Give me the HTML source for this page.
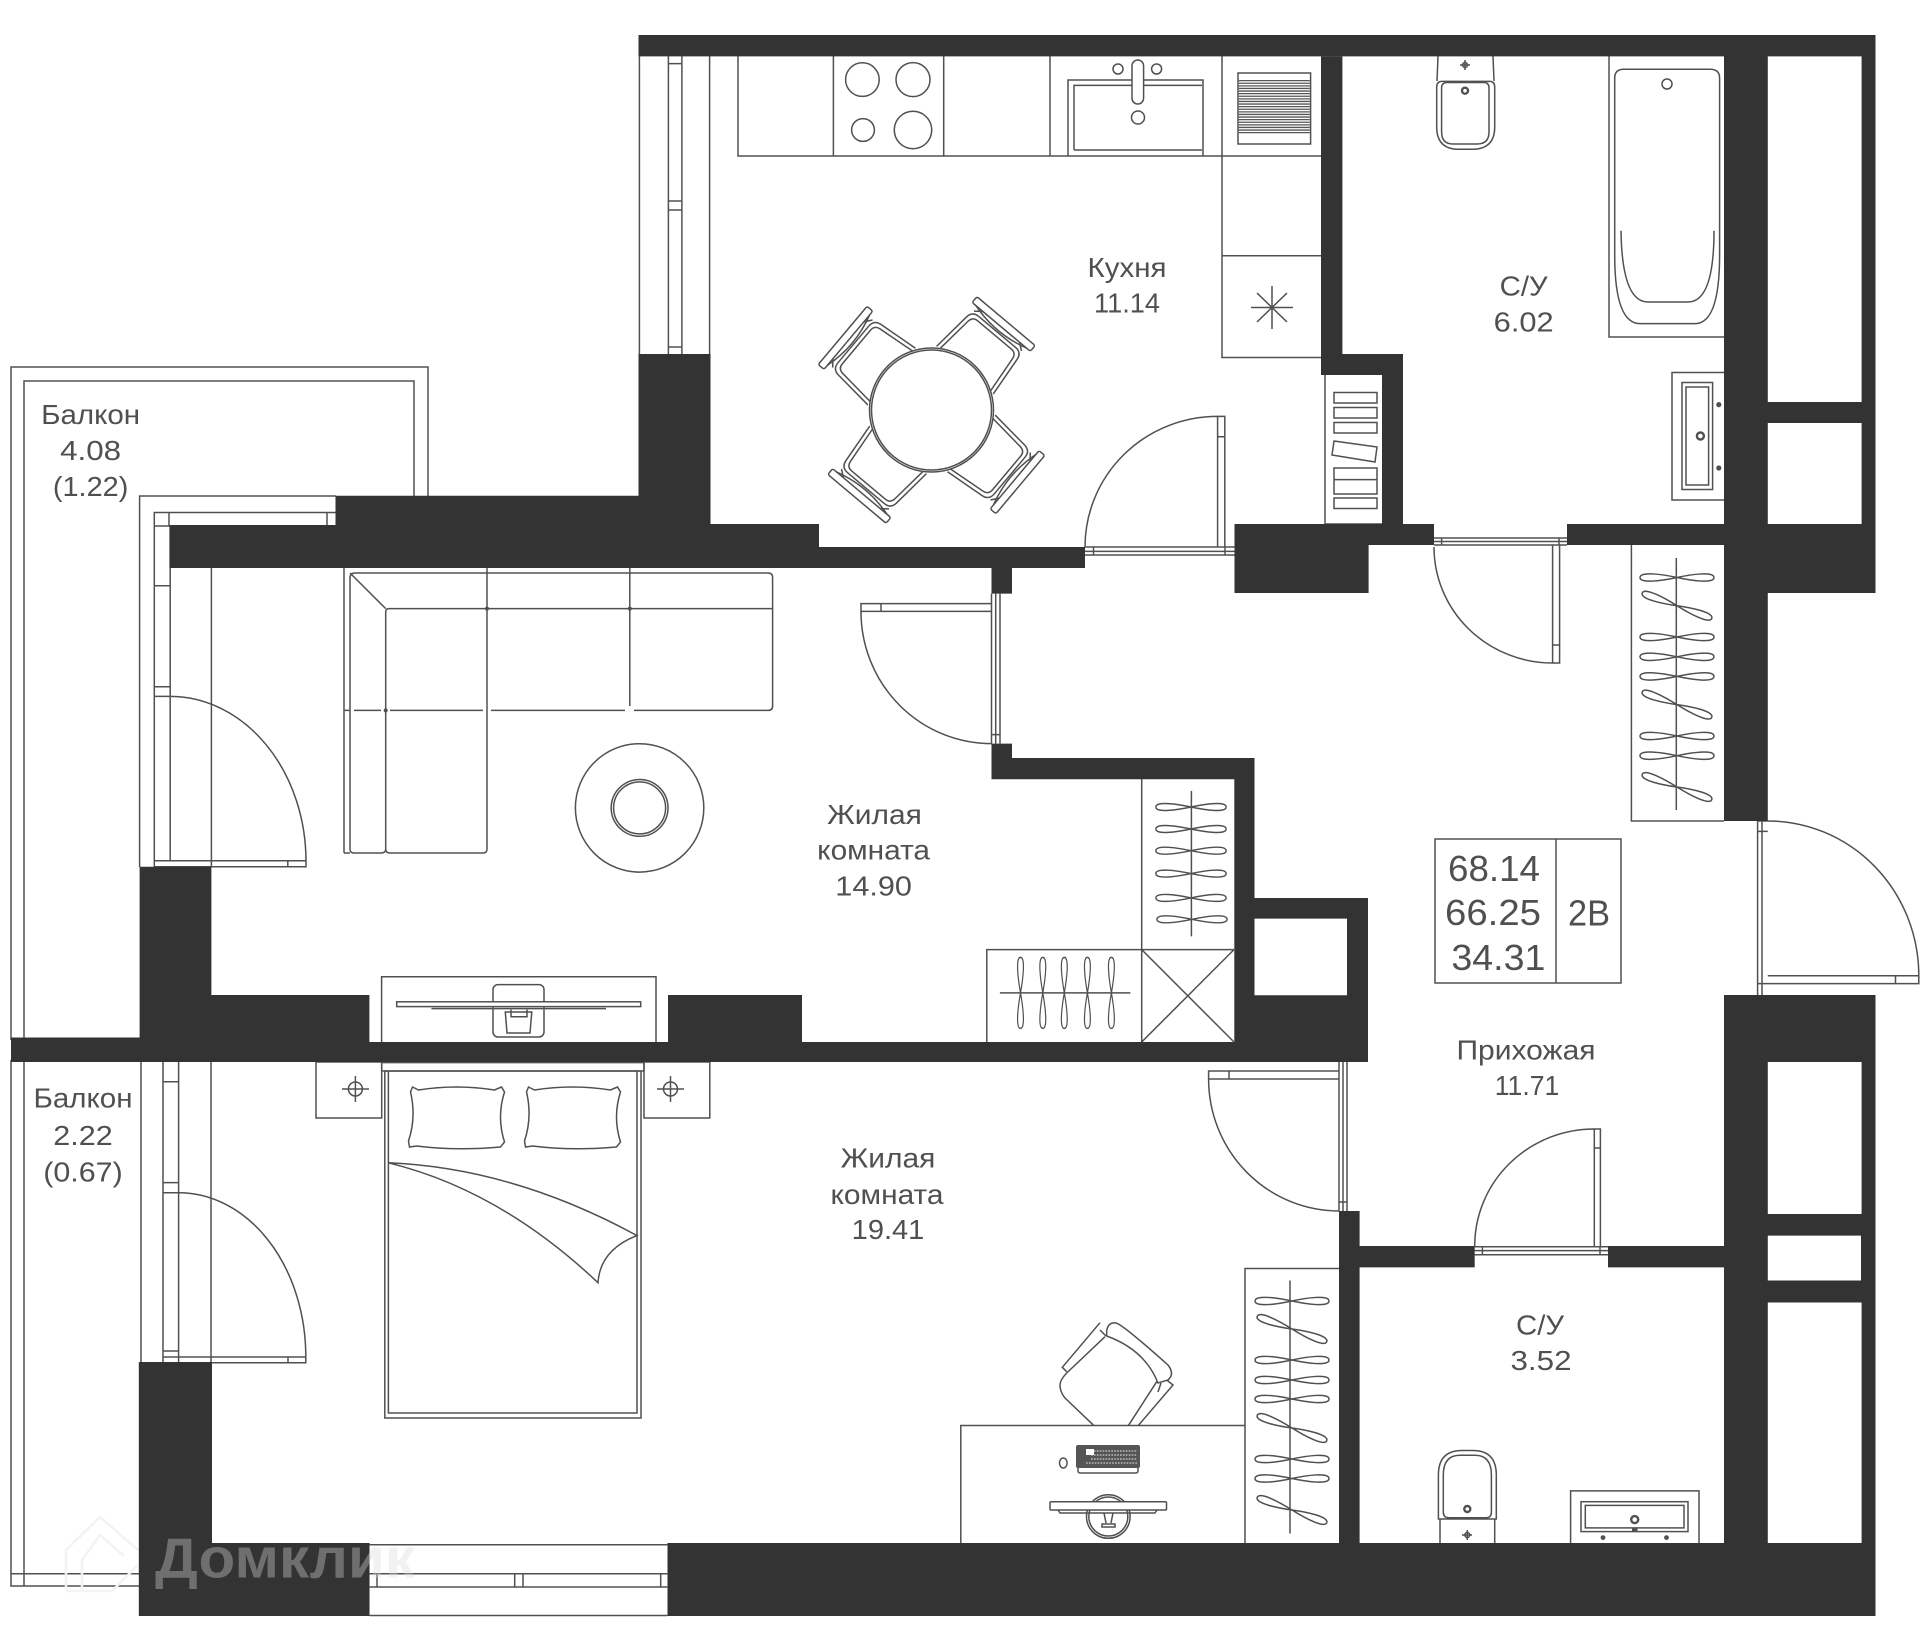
<!DOCTYPE html>
<html><head><meta charset="utf-8"><style>
html,body{margin:0;padding:0;background:#fff}
svg{display:block}
.l{fill:none;stroke:#505050;stroke-width:1.5}
.w{fill:#333}
text{font-family:"Liberation Sans",sans-serif;font-size:28px;fill:#505050;text-anchor:middle}
</style></head><body>
<svg xmlns="http://www.w3.org/2000/svg" width="1920" height="1646" viewBox="0 0 1920 1646">
<defs>
<g id="h" class="l"><path d="M0,0C-14,-3 -37,-6.5 -37,0C-37,6.5 -14,3 0,0C14,-3 37,-6.5 37,0C37,6.5 14,3 0,0Z"/></g>
<g id="c" class="l">
<path d="M-37,-52L-33,-94Q-32,-102 -24,-102H24Q32,-102 33,-94L37,-52"/>
<path d="M-33,-52L-29,-92Q-28,-98 -22,-98H22Q28,-98 29,-92L33,-52"/>
<rect x="-38" y="-116" width="76" height="7.5" rx="2"/>
<path d="M-33,-108.5Q0,-99 33,-108.5M-31,-103L-24,-108.5M31,-103L24,-108.5"/>
</g>
<g id="p" class="l"><path d="M4,0L10,3Q48,-3 86,3L93,0L96,5Q88,30 96,55L92,60Q48,64 8,59L1,60L0,54Q8,30 2,5Z"/></g>
</defs>
<rect width="1920" height="1646" fill="#fff"/>

<!-- balconies -->
<path class="l" d="M11,1040V367H428V496M24,1040V381H414V496"/>
<path class="l" d="M11,1060V1586H139M24,1060V1586M11,1573.8H139"/>

<!-- upper balcony door frame -->
<path class="l" d="M139.6,867V496H336M154.3,867V512.5H336M169,512.5V526M327,512.5V525M154,526H170M154,585.7H170M154,686.8H170M154,696.4H170M170.2,568V861M211.4,568V867M154,860.7H306M154,866.8H306V861M287.8,861V867"/>
<path class="l" d="M170.2,696.4A136,165 0 0 1 306,861.4"/>

<!-- lower balcony door frame -->
<path class="l" d="M141,1062V1362M163,1062V1362M178.6,1062V1362M211,1062V1362M163,1081.7H178.6M163,1182.6H178.6M163,1192.7H178.6M163,1351H178.6M163,1357H305.8M163,1362.7H305.8V1357M288,1357V1362.7"/>
<path class="l" d="M178.6,1192.7A127,164 0 0 1 305.8,1357"/>

<!-- kitchen window -->
<path class="l" d="M639.4,56V354M668.4,56V354M681.9,56V354M709.6,56V354M668.4,63.6H681.9M668.4,201H681.9M668.4,210H681.9M668.4,347H681.9"/>

<!-- kitchen counters -->
<path class="l" d="M1321,156H738V56M833.4,56V156M943.7,56V156M1050,56V156M1222,56V357.5H1321M1222,255.7H1321"/>
<circle class="l" cx="862.4" cy="79.6" r="16.8"/><circle class="l" cx="913" cy="79.6" r="17"/>
<circle class="l" cx="863" cy="130" r="11.4"/><circle class="l" cx="913" cy="130" r="18.7"/>
<path class="l" d="M1068,156V80H1203V156M1074,150V85.4H1202M1074,150H1202"/>
<rect x="1132" y="60" width="11.6" height="44" rx="5.8" fill="#fff" stroke="#505050" stroke-width="1.5"/>
<circle class="l" cx="1118" cy="69" r="5"/><circle class="l" cx="1156.6" cy="69" r="5"/><circle class="l" cx="1138" cy="117.5" r="6.5"/>
<rect class="l" x="1238" y="73" width="72.6" height="71"/>
<path d="M1274.3,80V134" fill="none" stroke="#555" stroke-width="71" stroke-dasharray="1.3 1.3"/>
<path class="l" d="M1272,286V329M1251,307.5H1293M1257,293L1287,322M1257,322L1287,293"/>

<!-- table and chairs -->
<use href="#c" transform="translate(931.5,410) rotate(40)"/>
<use href="#c" transform="translate(931.5,410) rotate(130)"/>
<use href="#c" transform="translate(931.5,410) rotate(220)"/>
<use href="#c" transform="translate(931.5,410) rotate(310)"/>
<circle cx="931.5" cy="410" r="62" fill="#fff" stroke="#505050" stroke-width="1.5"/>
<circle class="l" cx="931.5" cy="410" r="60"/>

<!-- kitchen door -->
<path class="l" d="M1085,547A132.6,130.6 0 0 1 1217.6,416.4H1224.8V547M1217.6,416.4V547M1217.6,436.8H1224.8"/>
<path class="l" d="M1085,547H1234.5M1085,551.4H1234.5M1085,555H1234.5M1093.5,547V555M1225,547V555"/>

<!-- toilet, bath, sink upper -->
<path class="l" d="M1438,56L1437,81M1493,56L1494,81"/>
<path class="l" d="M1436.7,87Q1436.7,81.4 1442,81.4H1489.5Q1494.7,81.4 1494.7,87V127Q1494.7,149.3 1472,149.3H1459Q1436.7,149.3 1436.7,127Z"/>
<path class="l" d="M1441.6,88Q1441.6,82.5 1447,82.5H1484Q1489,82.5 1489,88V132Q1489,144 1477,144H1453Q1441.6,144 1441.6,132Z"/>
<circle cx="1465" cy="90.7" r="3" fill="none" stroke="#505050" stroke-width="2.4"/>
<path class="l" d="M1460,65H1470M1465,60V70"/><circle class="l" cx="1465" cy="65" r="2.5"/>
<path class="l" d="M1724,337H1609V56"/>
<path class="l" d="M1614.7,78Q1614.7,69.3 1624,69.3H1710Q1719.6,69.3 1719.6,78V255Q1719.6,323.6 1695,323.6H1640Q1614.7,323.6 1614.7,255Z"/>
<path class="l" d="M1621,230.7Q1622,302 1648,302H1688Q1714,302 1714,230.7"/>
<circle class="l" cx="1667" cy="84" r="5"/>
<path class="l" d="M1724,372.5H1672V500H1724"/>
<rect class="l" x="1682" y="382.5" width="30.6" height="107"/>
<rect class="l" x="1686" y="387" width="22.6" height="98"/>
<circle cx="1700.4" cy="436" r="3.5" fill="none" stroke="#505050" stroke-width="2.4"/>
<circle cx="1718.8" cy="404.6" r="2.6" fill="#505050"/><circle cx="1718.8" cy="468" r="2.6" fill="#505050"/>

<!-- shaft racks -->
<path class="l" d="M1325,375V524M1334,392.5H1377V403H1334ZM1334,407.5H1377V418H1334ZM1334,422.5H1377V433H1334ZM1334,441L1377,447L1375,462L1332,455ZM1334,468H1377V494H1334ZM1334,479.6H1377M1334,498H1377V508.5H1334Z"/>
<path class="l" d="M1325,524H1382"/>

<!-- bath door -->
<path class="l" d="M1434,538H1567M1434,541.5H1567M1434,545H1567M1441.6,538V545M1559,538V545"/>
<path class="l" d="M1434,547A118.6,116 0 0 0 1552.6,663H1559.6V545M1552.6,545V663M1552.6,645H1559.6"/>

<!-- hall wardrobe -->
<path class="l" d="M1631.4,545V821H1724M1676.3,558V810"/>
<use href="#h" transform="translate(1677,577.5)"/><use href="#h" transform="translate(1677,605.7) rotate(20)"/>
<use href="#h" transform="translate(1677,637)"/><use href="#h" transform="translate(1677,656.8)"/>
<use href="#h" transform="translate(1677,676.4)"/><use href="#h" transform="translate(1677,704.6) rotate(20)"/>
<use href="#h" transform="translate(1677,736)"/><use href="#h" transform="translate(1677,755.7)"/>
<use href="#h" transform="translate(1677,787) rotate(20)"/>

<!-- entrance door -->
<path class="l" d="M1757.6,821V995M1762,821V995M1757.6,831.4H1767.8M1757.6,821H1767.8"/>
<path class="l" d="M1767.8,821A151,154.7 0 0 1 1918.8,975.7V983.6H1757.6M1767.8,975.7H1918.8M1895.5,975.7V983.6"/>

<!-- summary box -->
<rect class="l" x="1435" y="839" width="186" height="144"/><path class="l" d="M1556,839V983"/>

<!-- living furniture -->
<path class="l" d="M344,853V568M344,710.4H350M354,710.4H381M390,710.4H483M491,710.4H625M634,710.4H768Q772.6,710.4 772.6,706V577Q772.6,573 768,573H355Q350,573 350,578V849Q350,853 354,853H381Q385.7,853 385.7,849V612Q385.7,608.6 389,608.6H772.6M350,573L385.7,608.6M487,568V849Q487,853 483,853H390Q385.7,853 385.7,849M629.8,568V706M344,853H350"/>
<circle cx="385.7" cy="710.4" r="2" fill="#505050"/><circle cx="487" cy="608.6" r="2" fill="#505050"/><circle cx="629.8" cy="608.6" r="2" fill="#505050"/>
<circle class="l" cx="639.6" cy="807.9" r="64.2"/>
<circle class="l" cx="639.6" cy="807.9" r="28.4"/><circle class="l" cx="639.6" cy="807.9" r="26"/>
<path class="l" d="M381.6,1042V976.8H656V1042"/>
<rect class="l" x="493" y="984.6" width="51" height="52.4" rx="5"/>
<rect x="396.7" y="1001.8" width="244" height="4.8" fill="#fff" stroke="#505050" stroke-width="1.5"/>
<path class="l" d="M431.4,1008.6H606"/>
<path class="l" d="M505.3,1012H531.8L530,1033H507ZM511,1009.6V1016.8H527V1009.6"/>

<!-- door living -->
<path class="l" d="M991.5,593.6V743.6M995.7,593.6V743.6M1000,593.6V743.6M991.5,734.6H1000"/>
<path class="l" d="M991.5,603.6H861V611.4H991.5M881,603.6V611.4"/>
<path class="l" d="M861,611.4A130.5,132 0 0 0 991.5,743.6"/>

<!-- living wardrobes -->
<path class="l" d="M1141.7,779V1042M1141.7,949.6H1234M986.8,1042V949.6H1141.7M1141.7,949.6L1234,1042M1234,949.6L1141.7,1042M1191.4,791V936.4M999.9,992.9H1130.4"/>
<use href="#h" transform="translate(1191,807) scale(.95,.95)"/><use href="#h" transform="translate(1191,829) scale(.95,.95)"/>
<use href="#h" transform="translate(1191,850.7) scale(.95,.95)"/><use href="#h" transform="translate(1191,873.6) scale(.95,.95)"/>
<use href="#h" transform="translate(1191,897.9) scale(.95,.95)"/><use href="#h" transform="translate(1192,919.3) scale(.95,.95)"/>
<use href="#h" transform="translate(1020.5,992.9) rotate(90) scale(.96,.8)"/><use href="#h" transform="translate(1042.8,992.9) rotate(90) scale(.96,.8)"/>
<use href="#h" transform="translate(1064.3,992.9) rotate(90) scale(.96,.8)"/><use href="#h" transform="translate(1087.4,992.9) rotate(90) scale(.96,.8)"/>
<use href="#h" transform="translate(1111.4,992.9) rotate(90) scale(.96,.8)"/>

<!-- bedroom -->
<rect class="l" x="316" y="1062" width="65.7" height="56"/>
<rect class="l" x="644" y="1062" width="65.8" height="56"/>
<circle class="l" cx="355.4" cy="1089" r="7"/><path class="l" d="M355.4,1076V1102M342,1089H369"/>
<circle class="l" cx="670.5" cy="1089" r="7"/><path class="l" d="M670.5,1076V1102M657,1089H684"/>
<rect class="l" x="381.7" y="1062.6" width="262.3" height="8.4"/>
<rect class="l" x="384.8" y="1071" width="256.2" height="347"/>
<path class="l" d="M388.4,1071V1413H637V1071"/>
<use href="#p" transform="translate(408.5,1087)"/><use href="#p" transform="translate(524.5,1087)"/>
<path class="l" d="M388.4,1162.8Q513,1168 637,1235.6Q600,1250 598,1282.7Q500,1190 388.4,1162.8Z"/>

<!-- bedroom door -->
<path class="l" d="M1339,1062V1211M1343,1062V1211M1347,1062V1211M1339,1202H1347"/>
<path class="l" d="M1339,1071H1208.6V1079H1339M1229,1071V1079"/>
<path class="l" d="M1208.6,1079A130.4,132 0 0 0 1339,1211"/>

<!-- desk etc -->
<path class="l" d="M960.8,1543V1425.5H1245"/>
<path class="l" d="M1100,1322.7L1062.3,1367.3L1066.7,1371.7M1166.7,1380L1173,1385L1138.3,1425.5"/>
<path class="l" d="M1105,1336.7L1066.7,1373Q1060,1380 1060,1385Q1060,1392 1065,1398L1094,1425.7M1156.7,1381.7L1128.3,1425.7"/>
<path fill="#fff" stroke="#505050" stroke-width="1.5" d="M1106.7,1331Q1108,1322 1116,1323Q1122,1324 1168,1365Q1175,1374 1168,1380L1158,1383Q1145,1350 1106.7,1336Z"/>
<path class="l" d="M1100,1330L1106,1336M1161,1383L1158,1392"/>
<rect x="1076" y="1445" width="64" height="23" rx="2" fill="#555"/>
<path d="M1091,1451H1137M1091,1455H1137M1091,1459H1137M1086,1463H1137" stroke="#ccc" stroke-width="1.2" stroke-dasharray="1.7 1.2" fill="none"/>
<rect x="1086" y="1449" width="8" height="6" fill="#fff"/>
<path class="l" d="M1078,1468V1471Q1078,1473 1081,1473H1135Q1138,1473 1138,1471V1468"/>
<ellipse class="l" cx="1063.3" cy="1463" rx="3.8" ry="5"/>
<circle class="l" cx="1108.3" cy="1516.5" r="21.8"/><circle class="l" cx="1108.3" cy="1516.5" r="19.5"/>
<rect x="1050" y="1501.7" width="116.5" height="8.3" rx="1" fill="#fff" stroke="#505050" stroke-width="1.5"/>
<path class="l" d="M1058,1510L1060,1513H1155L1157,1510M1104,1513L1106,1523M1113,1513L1111,1523M1102,1524H1115V1527H1102Z"/>

<!-- bedroom wardrobe -->
<path class="l" d="M1245,1543V1268.5H1339M1290,1280.5V1533.5"/>
<use href="#h" transform="translate(1292,1301)"/><use href="#h" transform="translate(1292,1329) rotate(20)"/>
<use href="#h" transform="translate(1292,1360)"/><use href="#h" transform="translate(1292,1380)"/>
<use href="#h" transform="translate(1292,1399)"/><use href="#h" transform="translate(1292,1428) rotate(20)"/>
<use href="#h" transform="translate(1292,1459)"/><use href="#h" transform="translate(1292,1478.5)"/>
<use href="#h" transform="translate(1292,1510) rotate(20)"/>

<!-- lower bath door -->
<path class="l" d="M1474.7,1246.8H1608M1474.7,1250.6H1608M1474.7,1254.7H1608M1482.4,1246.8V1254.7M1600,1246.8V1254.7"/>
<path class="l" d="M1474.7,1246A119.6,117 0 0 1 1594.3,1129H1600.4V1246.8M1594.3,1129V1246.8M1594.3,1148H1600.4"/>

<!-- lower toilet, sink -->
<path class="l" d="M1438.4,1475Q1438.4,1450.5 1462,1450.5H1473Q1496.3,1450.5 1496.3,1475V1519H1438.4Z"/>
<path class="l" d="M1443.3,1475Q1443.3,1455.3 1460,1455.3H1475Q1491.4,1455.3 1491.4,1475V1512Q1491.4,1517.8 1486,1517.8H1449Q1443.3,1517.8 1443.3,1512Z"/>
<path class="l" d="M1440,1519V1543M1494.7,1519V1543"/>
<circle cx="1467.3" cy="1509" r="3" fill="none" stroke="#505050" stroke-width="2.4"/>
<circle class="l" cx="1467.3" cy="1535" r="2.5"/><path class="l" d="M1462,1535H1472M1467.3,1530V1540"/>
<path class="l" d="M1570.6,1543V1490.9H1699V1543"/>
<rect class="l" x="1581" y="1501.7" width="107" height="29.9"/><rect class="l" x="1585.3" y="1505.4" width="98.7" height="22.5"/>
<circle cx="1634.7" cy="1519.6" r="3.5" fill="none" stroke="#505050" stroke-width="2.4"/>
<circle cx="1603" cy="1537.6" r="2.4" fill="#505050"/><circle cx="1666.5" cy="1537.6" r="2.4" fill="#505050"/>
<rect x="1632" y="1528" width="5.5" height="3" fill="#505050"/>

<!-- walls -->
<g class="w">
<path d="M638.5,35H1875.5V56.4H638.5Z"/>
<path d="M638.5,354H710.5V524H819V547H1085V568H169.4V525H335.5V495.7H638.5Z"/>
<path d="M991.5,568H1012V593.6H991.5Z"/>
<path d="M991.5,743.6H1012V758H1254.5V898H1368V1062H11V1037.5H139.6V866.8H211.4V995H369.4V1042H668V995H802V1042H1234.3V779.3H991.5Z"/>
<path d="M1254.5,918.6H1347V995.3H1254.5Z" fill="#fff"/>
<path d="M1234.5,524H1434V545H1368.6V593H1234.5Z"/>
<path d="M1321,56.4H1342.4V354H1403V524H1382V375H1321Z"/>
<path d="M1567,524H1724V56H1767.8V402H1861.6V56H1875.5V593H1767.8V821H1724V545H1567Z"/>
<path d="M1767.8,423H1861.6V524H1767.8Z" fill="#fff"/>
<path d="M1724,995H1875.5V1616H138.8V1362H212V1543H369.6V1616H667.4V1543H1339V1211H1359.6V1246H1474.7V1267.4H1359.6V1543H1724Z"/>
<path d="M1767.8,1062H1861.6V1214H1767.8ZM1767.8,1235.6H1861V1280.5H1767.8ZM1767.8,1302.5H1861.6V1543H1767.8Z" fill="#fff"/>
<path d="M1608,1246H1724V1267.4H1608Z"/>
</g>
<path d="M369.6,1544.7H667.4V1616H369.6Z" fill="#fff"/>
<path class="l" d="M369.6,1544.7H667.4M369.6,1573.8H667.4M369.6,1587H667.4M369.6,1615.5H667.4M377,1573.8V1587M514.7,1573.8V1587M523,1573.8V1587M660.7,1573.8V1587"/>

<!-- labels -->
<text x="90.6" y="424" textLength="99" lengthAdjust="spacingAndGlyphs">Балкон</text>
<text x="90.6" y="460" textLength="61" lengthAdjust="spacingAndGlyphs">4.08</text>
<text x="90.6" y="496" textLength="75.5" lengthAdjust="spacingAndGlyphs">(1.22)</text>
<text x="83" y="1107.5" textLength="99" lengthAdjust="spacingAndGlyphs">Балкон</text>
<text x="83" y="1145" textLength="59.4" lengthAdjust="spacingAndGlyphs">2.22</text>
<text x="83" y="1181.5" textLength="79.5" lengthAdjust="spacingAndGlyphs">(0.67)</text>
<text x="1127" y="277" textLength="79" lengthAdjust="spacingAndGlyphs">Кухня</text>
<text x="1127" y="312.6" textLength="66" lengthAdjust="spacingAndGlyphs">11.14</text>
<text x="1523.7" y="295.7" textLength="48" lengthAdjust="spacingAndGlyphs">С/У</text>
<text x="1523.7" y="331.5" textLength="60" lengthAdjust="spacingAndGlyphs">6.02</text>
<text x="874.5" y="824" textLength="94.7" lengthAdjust="spacingAndGlyphs">Жилая</text>
<text x="873.6" y="859.5" textLength="112.8" lengthAdjust="spacingAndGlyphs">комната</text>
<text x="873.6" y="895.5" textLength="76.6" lengthAdjust="spacingAndGlyphs">14.90</text>
<text x="888" y="1167.6" textLength="94.7" lengthAdjust="spacingAndGlyphs">Жилая</text>
<text x="887" y="1204" textLength="113" lengthAdjust="spacingAndGlyphs">комната</text>
<text x="888" y="1239" textLength="72.6" lengthAdjust="spacingAndGlyphs">19.41</text>
<text x="1526" y="1059.6" textLength="139" lengthAdjust="spacingAndGlyphs">Прихожая</text>
<text x="1527" y="1095" textLength="64.5" lengthAdjust="spacingAndGlyphs">11.71</text>
<text x="1540" y="1334.7" textLength="48" lengthAdjust="spacingAndGlyphs">С/У</text>
<text x="1541" y="1370" textLength="61" lengthAdjust="spacingAndGlyphs">3.52</text>
<text x="1494" y="881" style="font-size:36px" textLength="92" lengthAdjust="spacingAndGlyphs">68.14</text>
<text x="1493" y="925" style="font-size:36px" textLength="96" lengthAdjust="spacingAndGlyphs">66.25</text>
<text x="1498.4" y="970" style="font-size:36px" textLength="94" lengthAdjust="spacingAndGlyphs">34.31</text>
<text x="1589" y="925.7" style="font-size:36px" textLength="42" lengthAdjust="spacingAndGlyphs">2В</text>

<!-- watermark -->
<path d="M66,1590V1550L100,1517L138,1550M82,1590V1560L100,1535L124,1556M66,1591H112L138,1565" fill="none" stroke="#f3f3f3" stroke-width="2.5"/>
<text x="285" y="1577.5" textLength="260" lengthAdjust="spacingAndGlyphs" style="font-size:57px;font-weight:bold;fill:rgba(219,219,219,.36)">Домклик</text>
</svg>
</body></html>
